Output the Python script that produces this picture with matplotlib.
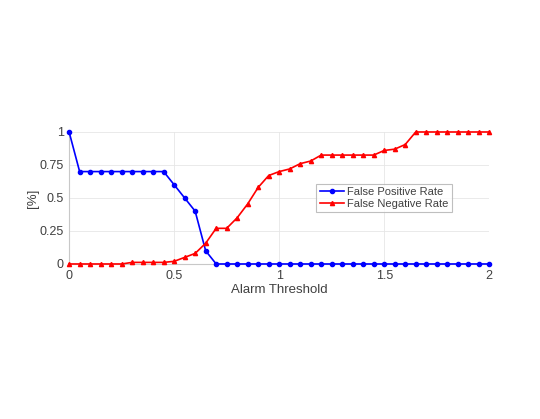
import numpy as np
import matplotlib
matplotlib.use("Agg")
import matplotlib.pyplot as plt

# alarm thresholds 0 .. 2 in steps of 0.05
threshold = [round(0.05 * i, 2) for i in range(41)]

false_positive = [1.0, 0.7, 0.7, 0.7, 0.7, 0.7, 0.7, 0.7, 0.7, 0.7,
                  0.6, 0.5, 0.4, 0.1, 0.0, 0.0, 0.0, 0.0, 0.0, 0.0,
                  0.0, 0.0, 0.0, 0.0, 0.0, 0.0, 0.0, 0.0, 0.0, 0.0,
                  0.0, 0.0, 0.0, 0.0, 0.0, 0.0, 0.0, 0.0, 0.0, 0.0, 0.0]

false_negative = [0.0, 0.0, 0.0, 0.0, 0.0, 0.0, 0.012, 0.012, 0.012, 0.012,
                  0.02, 0.05, 0.08, 0.157, 0.27, 0.27, 0.35, 0.455, 0.58, 0.67,
                  0.70, 0.72, 0.76, 0.78, 0.825, 0.825, 0.825, 0.825, 0.825, 0.825,
                  0.86, 0.87, 0.905, 1.0, 1.0, 1.0, 1.0, 1.0, 1.0, 1.0, 1.0]

plt.rcParams["font.family"] = ["Liberation Sans", "DejaVu Sans"]

fig = plt.figure(figsize=(5.4, 4.19), dpi=100)
ax = fig.add_axes([0.128, 0.370, 0.778, 0.315])

ax.plot(threshold, false_positive, "-o", color="#0000ff", lw=1.2, ms=3,
        label="False Positive Rate", clip_on=False, zorder=3)
ax.plot(threshold, false_negative, "-^", color="#ff0000", lw=1.2, ms=3,
        label="False Negative Rate", clip_on=False, zorder=3)

ax.set_xlim(0, 2)
ax.set_ylim(0, 1)
ax.set_xticks([0, 0.5, 1, 1.5, 2])
ax.set_xticklabels(["0", "0.5", "1", "1.5", "2"])
ax.set_yticks([0, 0.25, 0.5, 0.75, 1])
ax.set_yticklabels(["0", "0.25", "0.5", "0.75", "1"])
ax.grid(True, color="#e6e6e6", lw=0.6)
ax.set_axisbelow(True)

for side in ("top", "right"):
    ax.spines[side].set_visible(False)
for side in ("left", "bottom"):
    ax.spines[side].set_color("#c8c8c8")
    ax.spines[side].set_linewidth(0.8)
ax.tick_params(colors="#c8c8c8", labelcolor="#404040", labelsize=9,
               length=0, pad=4)

ax.set_xlabel("Alarm Threshold", fontsize=9.5, color="#404040", labelpad=2)
ax.set_ylabel("[%]", fontsize=9.5, color="#404040", labelpad=0)

leg = ax.legend(loc="center", bbox_to_anchor=(0.75, 0.5), fontsize=8,
                frameon=True, fancybox=False, edgecolor="#b0b0b0",
                handlelength=2.2, borderpad=0.3, labelspacing=0.2,
                handletextpad=0.3)
leg.get_frame().set_linewidth(0.8)
for t in leg.get_texts():
    t.set_color("#404040")

fig.savefig("out.png", dpi=100)
